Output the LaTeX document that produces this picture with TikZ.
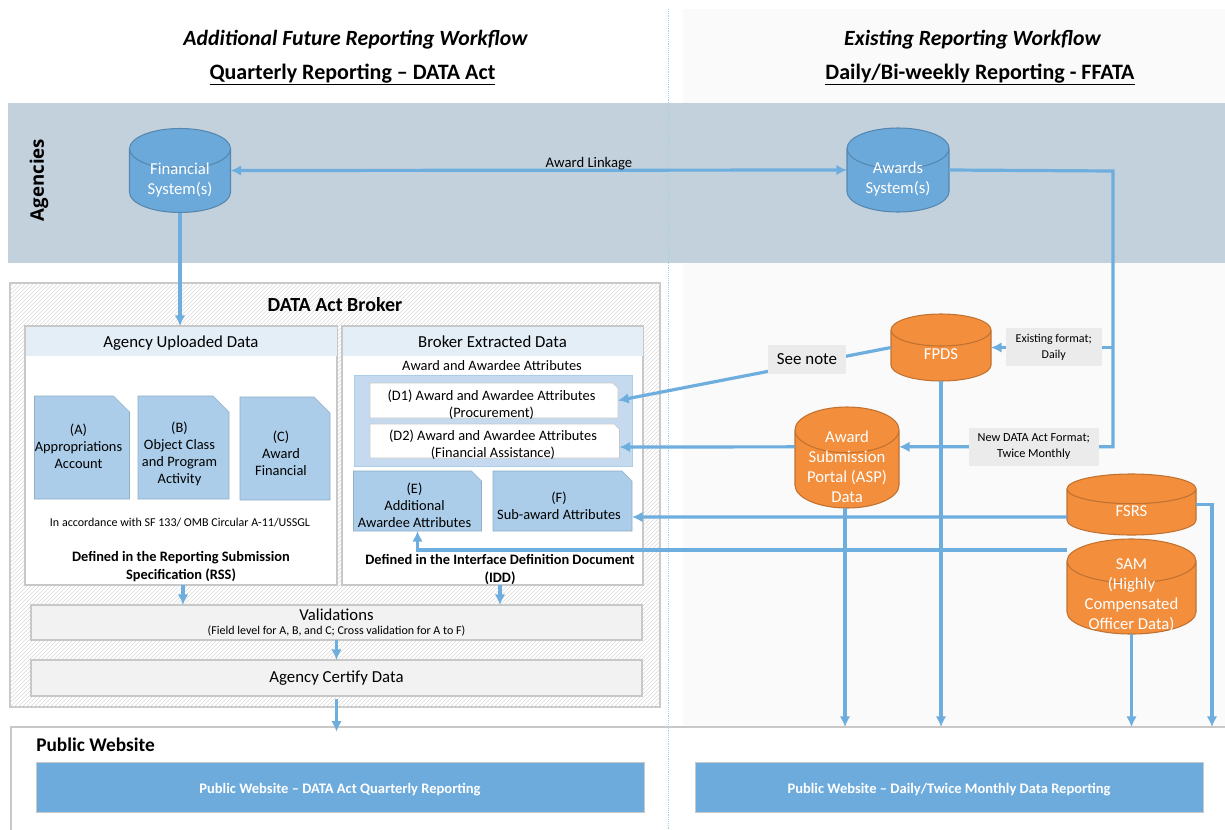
\documentclass[tikz,border=0pt]{standalone}
\usepackage{fontspec}
\setmainfont{Carlito}
\newfontfamily\bandfont{Open Sans}
\usetikzlibrary{shapes.geometric,shapes.misc,patterns,arrows.meta}
\definecolor{flowblue}{HTML}{6EAEDF}
\definecolor{bandgrey}{HTML}{C3D1DD}
\definecolor{headblue}{HTML}{E3EEF7}
\definecolor{docblue}{HTML}{ABCDE9}
\definecolor{setblue}{HTML}{C5DAEF}
\definecolor{siteblue}{HTML}{6DABDC}
\definecolor{dbblue}{HTML}{6BA9DB}
\definecolor{dborange}{HTML}{F28E3C}
\definecolor{frame}{HTML}{C8C8C8}

\begin{document}
\begin{tikzpicture}[x=0.75pt,y=-0.75pt,>=latex,
	sized/.style 2 args={minimum width=#1*0.75pt,minimum height=#2*0.75pt,inner sep=0pt,outer sep=0pt},
	flow/.style={draw=flowblue,line width=2.4pt,>={Latex[length=8pt,width=8pt]}},
	txt/.style={align=center,inner sep=0pt,font=\fontsize{#1}{13}\selectfont},
	bold/.style={align=center,inner sep=0pt,font=\fontsize{#1}{13}\selectfont\bfseries},
	panel/.style={draw=frame,line width=1pt,fill=white},
	head/.style={fill=headblue,text height=11pt,text depth=2.2pt,font=\fontsize{12.6}{14}\selectfont},
	bar/.style={draw=frame,line width=1pt,fill=black!5,align=center},
	docu/.style={chamfered rectangle,chamfered rectangle corners=north east,
		chamfered rectangle xsep=6pt,chamfered rectangle ysep=6pt,
		draw=docblue!85!black,fill=docblue},
	smalldocu/.style={docu,chamfered rectangle xsep=3.75pt,chamfered rectangle ysep=3.75pt},
	wdocu/.style={docu,chamfered rectangle xsep=2pt,chamfered rectangle ysep=2pt,
		draw=frame,fill=white},
	doctext/.style={align=center,inner sep=0pt,font=\fontsize{10.8}{12.8}\selectfont},
	note/.style={fill=black!8,align=center,inner sep=0pt,font=\fontsize{9.2}{12}\selectfont},
	db/.style={cylinder,shape border rotate=90,draw=#1!80!black,fill=#1,line width=0.8pt},
	dbtext/.style={text=white,align=center,inner sep=0pt,font=\fontsize{12.5}{15}\selectfont},
	site/.style={fill=siteblue,draw=frame,text=white,text height=12pt,text depth=2.3pt,
		font=\fontsize{10.9}{12}\selectfont\bfseries}
]
\def\blank{\phantom{\rule{16pt}{16pt}}}
\def\store#1#2#3#4#5#6{
	\node[db=#2,sized={#4}{#5},shape aspect=#6,anchor=shape center] (#1) at #3
		{\rule{\dimexpr #4pt*3/4\relax}{0pt}};
	\coordinate (#1l) at (#1.shape center -| #1.west);
	\coordinate (#1r) at (#1.shape center -| #1.east);
}
\useasboundingbox (0,0) rectangle (1225,829);

% backgrounds
\fill[black!2] (683,9) rectangle (1225,727);
\fill[bandgrey] (8,103) rectangle (1225,263);
\node[sized={1289}{120},panel] (pubbox) at (655.5,787) {};
\node[sized={650}{424},draw=frame,line width=1pt,fill=white,
	postaction={pattern=north east lines,pattern color=black!14}] (broker) at (335,495) {};
\draw[densely dotted,draw=flowblue!60] (668,9) -- (668,829);

% titles
\node[inner sep=0pt,font=\fontsize{16.3}{19}\selectfont\bfseries\itshape] (t1) at (355.5,40) {Additional Future Reporting Workflow};
\node[bold=16.5] (t2) at (352.5,74.5) {\underline{Quarterly Reporting -- DATA Act}};
\node[inner sep=0pt,font=\fontsize{16.3}{19}\selectfont\bfseries\itshape] (t3) at (972.5,40) {Existing Reporting Workflow};
\node[bold=16.5] (t4) at (980,74.5) {\underline{Daily/Bi-weekly Reporting - FFATA}};
\node[rotate=90,inner sep=0pt,font=\fontsize{14}{17}\selectfont\bandfont\bfseries] (agencies) at (39,180) {Agencies};

% broker
\node[bold=15] (brokertitle) at (335,305) {DATA Act Broker};
\node[sized={312}{259},panel] (upload) at (181,455.5) {};
\node[sized={301}{259},panel] (extract) at (492.5,455.5) {};
\node[sized={311}{29},head] (uploadhead) at (181,341.5) {Agency Uploaded Data};
\node[sized={300}{29},head] (extracthead) at (492.5,341.5) {Broker Extracted Data};
\node[txt=10.8] (attr) at (492,366) {Award and Awardee Attributes};

\node[docu,sized={95}{103}] (a) at (82,447.5) {\blank};
\node[docu,sized={91}{103}] (b) at (183.5,447.5) {\blank};
\node[docu,sized={90}{103}] (c) at (285,448.5) {\blank};
\node[doctext] (atext) at (78.5,446) {(A)\\Appropriations\\Account};
\node[doctext] (btext) at (179.5,453.5) {(B)\\Object Class\\and Program\\Activity};
\node[doctext] (ctext) at (281,453.5) {(C)\\Award\\Financial};

\node[sized={278}{91},fill=setblue,draw=docblue] (dset) at (493,420.5) {};
\node[wdocu,sized={248}{35}] (d1) at (494,400.5) {\blank};
\node[wdocu,sized={249.5}{34}] (d2) at (494.75,441) {\blank};
\node[doctext] (d1text) at (491.5,404.5) {(D1) Award and Awardee Attributes\\(Procurement)};
\node[doctext] (d2text) at (493,444.5) {(D2) Award and Awardee Attributes\\(Financial Assistance)};
\node[smalldocu,sized={128}{60}] (e) at (417.5,501) {\blank};
\node[smalldocu,sized={139}{60}] (f) at (562.5,501) {\blank};
\node[doctext] (etext) at (414.5,505) {(E)\\Additional\\Awardee Attributes};
\node[doctext] (ftext) at (559,506) {(F)\\Sub-award Attributes};

\node[txt=9] (accord) at (180,523) {In accordance with SF 133/ OMB Circular A-11/USSGL};
\node[bold=10.8] (rss) at (181,566.5) {Defined in the Reporting Submission\\Specification (RSS)};
\node[bold=10.8] (idd) at (500,569.5) {Defined in the Interface Definition Document\\(IDD)};

\node[bar,sized={611}{35}] (valid) at (336.5,622.5) {\fontsize{12.5}{13}\selectfont Validations\\[-1pt]\fontsize{9}{10}\selectfont (Field level for A, B, and C; Cross validation for A to F)};
\node[bar,sized={611}{36},font=\fontsize{12.6}{14}\selectfont] (certify) at (336.5,678) {Agency Certify Data};

% public website
\node[bold=14.5,anchor=west] (pubtitle) at (36,744.5) {Public Website};
\node[site,sized={608}{50}] (pubdata) at (340,787) {Public Website -- DATA Act Quarterly Reporting};
\node[site,sized={508}{50}] (pubffata) at (949,787) {Public Website -- Daily/Twice Monthly Data Reporting};

% data stores
\store{fin}{dbblue}{(180,170.5)}{101}{84}{0.40}
\store{awards}{dbblue}{(898,170)}{102}{84}{0.40}
\store{fpds}{dborange}{(941,347.5)}{100}{67}{0.32}
\store{asp}{dborange}{(847,457.5)}{104}{101}{0.44}
\store{fsrs}{dborange}{(1131.5,504.5)}{129}{61}{0.23}
\store{sam}{dborange}{(1131.5,586.5)}{129}{95}{0.34}
\node[dbtext] (fintext) at (180,180) {Financial\\System(s)};
\node[dbtext] (awardstext) at (898,179) {Awards\\System(s)};
\node[dbtext] (fpdstext) at (941,354) {FPDS};
\node[dbtext] (asptext) at (847,467) {Award\\Submission\\Portal (ASP)\\Data};
\node[dbtext] (fsrstext) at (1131.5,511) {FSRS};
\node[dbtext] (samtext) at (1131.5,595) {SAM\\(Highly\\Compensated\\Officer Data)};

% connectors
\coordinate (turn) at (1113,171);
\coordinate (fsrsturn) at (1212,504.5);
\draw[flow,<->] (finr) -- (awardsl);
\draw[flow,->] (fin.south) -- (fin.south |- upload.north);
\draw[flow,->] (awardsr) -- (turn) |- ([yshift=8pt]aspr);
\draw[flow,->] (turn |- fpdsr) -- (fpdsr);
\draw[flow,->] (fpdsl) -- (d1.east);
\draw[flow,->] ([yshift=8pt]aspl) -- ([yshift=-4.5pt]d2.east);
\draw[flow,->] ([yshift=-9.4pt]fsrsl) -- ([yshift=-12pt]f.east);
\draw[flow,->] ([yshift=27.4pt]saml) -| (e.south);
\draw[flow,->] ([xshift=-1.5pt]asp.south) -- ([xshift=-1.5pt]asp.south |- pubbox.north);
\foreach \db in {fpds,sam}{
	\draw[flow,->] (\db.south) -- (\db.south |- pubbox.north);
}
\draw[flow,->] (fsrsr) -- (fsrsturn) -- (fsrsturn |- pubbox.north);
\draw[flow,->] ([xshift=1.5pt]upload.south) -- ([xshift=1.5pt]upload.south |- valid.north);
\draw[flow,->] ([xshift=5.6pt]extract.south) -- ([xshift=5.6pt]extract.south |- valid.north);
\draw[flow,->] (valid.south) -- (certify.north);
\draw[flow,->] ([yshift=-2.5pt]certify.south) -- ([yshift=-3.5pt]certify.south |- pubbox.north);

% labels on the lines
\node[txt=11] (linkage) at (589,163.5) {Award Linkage};
\node[note,sized={78}{29},font=\fontsize{12.7}{13}\selectfont] (seenote) at (807,359) {See note};
\node[note,sized={95.5}{38},font=\fontsize{9}{12}\selectfont] (existing) at (1053.75,347) {Existing format;\\Daily};
\node[note,sized={129.5}{38}] (newformat) at (1033.75,447) {New DATA Act Format;\\Twice Monthly};
\end{tikzpicture}
\end{document}
